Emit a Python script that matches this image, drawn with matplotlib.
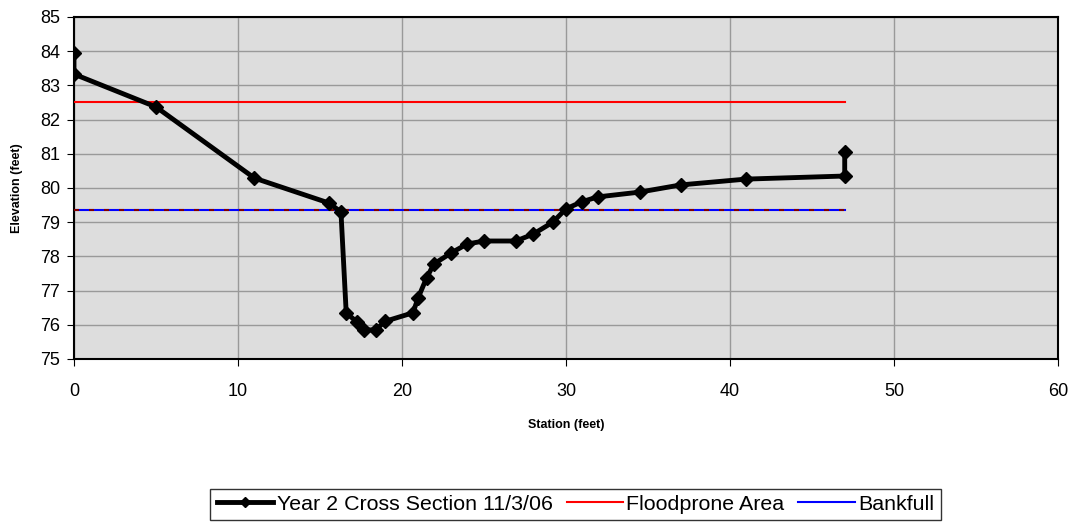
import matplotlib
matplotlib.use("Agg")
import matplotlib.pyplot as plt

plt.rcParams['font.family'] = ['Liberation Sans', 'DejaVu Sans']

# Cross section survey (station, elevation) in feet
station = [0, 0, 5.0, 11.0, 15.55, 16.28, 16.6, 17.26, 17.7, 18.4, 18.96,
           20.67, 20.98, 21.5, 21.95, 23.0, 23.96, 25.0, 26.95, 28.0, 29.2,
           30.0, 30.98, 31.95, 34.5, 37.0, 40.98, 47.0, 47.0]
elevation = [83.95, 83.33, 82.37, 80.29, 79.56, 79.3, 76.35, 76.08, 75.85,
             75.85, 76.1, 76.35, 76.78, 77.37, 77.78, 78.1, 78.36, 78.45,
             78.45, 78.65, 79.0, 79.39, 79.6, 79.74, 79.88, 80.09, 80.26,
             80.35, 81.05]

flood_x = [0, 47]
flood_y = [82.5, 82.5]
bank_x = [0, 47]
bank_y = [79.35, 79.35]

fig = plt.figure(figsize=(10.74, 5.23), dpi=100)
ax = fig.add_axes([0.0689, 0.3136, 0.9161, 0.6539])
ax.set_facecolor('#dddddd')

ax.plot(flood_x, flood_y, color='#ff0000', linewidth=1.5, label='Floodprone Area', zorder=3)
ax.plot(bank_x, bank_y, color='#0000ff', linewidth=1.5, label='Bankfull', zorder=3)
ax.plot(bank_x, bank_y, color='#800000', linewidth=1.5, dashes=(2.4, 4.8), zorder=3)
ax.plot(station, elevation, color='black', linewidth=3.5, marker='D', markersize=7,
        label='Year 2 Cross Section 11/3/06', zorder=4)

ax.set_xlim(0, 60)
ax.set_ylim(75, 85)
ax.set_xticks(range(0, 61, 10))
ax.set_yticks(range(75, 86))
ax.grid(True, color='#999999', linewidth=1)
ax.set_axisbelow(True)
ax.tick_params(labelsize=13, direction='out', length=5, color='black')
ax.tick_params(axis='x', pad=12)
ax.tick_params(axis='y', pad=5)
for s in ax.spines.values():
    s.set_color('black')
    s.set_linewidth(1.5)

ax.set_xlabel('Station (feet)', fontsize=9, fontweight='bold', labelpad=14)
ax.set_ylabel('Elevation (feet)', fontsize=9, fontweight='bold', labelpad=12)

handles, labels = ax.get_legend_handles_labels()
order = [2, 0, 1]
leg = fig.legend([handles[i] for i in order], [labels[i] for i in order],
                 loc='center', bbox_to_anchor=(0.5359, 0.0354), ncol=3, fontsize=15.4,
                 frameon=True, fancybox=False, edgecolor='black', handlelength=2.65,
                 handletextpad=0.15, columnspacing=0.65, borderpad=0.3, markerscale=0.7)
leg.get_frame().set_linewidth(1)

fig.savefig('out.png', dpi=100)
